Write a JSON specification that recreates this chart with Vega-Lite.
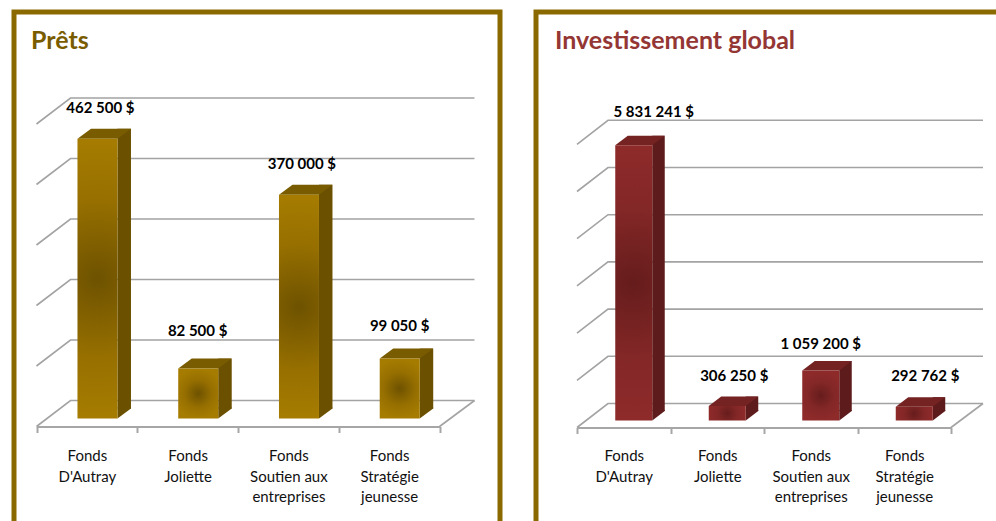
{
"$schema":"https://vega.github.io/schema/vega-lite/v6.json",
"background":"white",
"padding":{"left":11,"top":9,"right":0,"bottom":0},
"spacing":30,
"config":{"view":{"stroke":"#8a6a00","strokeWidth":5,"fill":"white"},"concat":{"spacing":30}},
"datasets":{
"prets":[{"fonds":"Fonds D'Autray","montant":462500,"label":"462 500 $"},{"fonds":"Fonds Joliette","montant":82500,"label":"82 500 $"},{"fonds":"Fonds Soutien aux entreprises","montant":370000,"label":"370 000 $"},{"fonds":"Fonds Stratégie jeunesse","montant":99050,"label":"99 050 $"}],
"invest":[{"fonds":"Fonds D'Autray","montant":5831241,"label":"5 831 241 $"},{"fonds":"Fonds Joliette","montant":306250,"label":"306 250 $"},{"fonds":"Fonds Soutien aux entreprises","montant":1059200,"label":"1 059 200 $"},{"fonds":"Fonds Stratégie jeunesse","montant":292762,"label":"292 762 $"}],
"gridP":[{"t":0},{"t":100000},{"t":200000},{"t":300000},{"t":400000},{"t":500000}],
"gridI":[{"t":0},{"t":1000000},{"t":2000000},{"t":3000000},{"t":4000000},{"t":5000000},{"t":6000000}]
},
"hconcat":[
{"width":486,"height":515,
"title":{"text":"Prêts","color":"#7a5c00","font":"Lato","fontWeight":"bold","fontSize":25,"anchor":"start","frame":"group","orient":"top","offset":-42,"dx":17},
"data":{"name":"prets"},
"encoding":{
"x":{"field":"fonds","type":"nominal","sort":null,"scale":{"domain":["Fonds D'Autray","Fonds Joliette","Fonds Soutien aux entreprises","Fonds Stratégie jeunesse"],"range":[22.5,425.5],"paddingInner":0,"paddingOuter":0},
"axis":{"title":null,"offset":-100.5,"orient":"bottom","tickBand":"extent","tickSize":6,"tickWidth":2,"tickColor":"#a6a6a6","domainColor":"#a6a6a6","domainWidth":2,"grid":false,"labelAngle":0,"labelFont":"Lato","labelFontSize":15,"labelColor":"#111111","labelPadding":16,"labelLineHeight":20.5,"labelLimit":0,
"labelExpr":"!datum.label?'':datum.label=='Fonds Soutien aux entreprises'?['Fonds','Soutien aux','entreprises']:datum.label=='Fonds Stratégie jeunesse'?['Fonds','Stratégie','jeunesse']:['Fonds',substring(datum.label,6)]"}},
"y":{"field":"montant","type":"quantitative","scale":{"domain":[0,500000],"range":[414.5,112],"nice":false},"axis":null}
},
"layer":[
{"data":{"name":"gridP"},"mark":{"type":"point","filled":false,"opacity":1,"stroke":"#a3a3a3","strokeWidth":1.6,"size":4,"shape":"M -50.4 0 L -16.4 -26 L 387.6 -26"},"encoding":{"x":{"datum":"Fonds D'Autray"},"y":{"field":"t","type":"quantitative"}}},
{"transform":[{"filter":"datum.fonds=='Fonds Stratégie jeunesse'"}],"mark":{"type":"point","filled":false,"opacity":1,"stroke":"#a3a3a3","strokeWidth":1.6,"size":4,"shape":"M 50.4 0 L 85.4 -26"},"encoding":{"y":{"datum":0}}},
{"mark":{"type":"bar","size":13.5,"xOffset":37.35,"yOffset":-18,"y2Offset":-18,"fill":"#6b5000"}},
{"mark":{"type":"point","filled":true,"opacity":1,"fill":"#6b5000","size":4,"xOffset":10.6,"yOffset":-8,"shape":"M 20 0 L 20 -11 L 33.5 -11 L 33.5 -10 Z"},"encoding":{"y":{"datum":0}}},
{"mark":{"type":"point","filled":true,"opacity":1,"fill":"#7a5c00","size":4,"xOffset":10.6,"yOffset":-8,"shape":"M -20 0 L -6.5 -10 L 33.5 -10 L 20 0 Z"}},
{"mark":{"type":"bar","size":40,"xOffset":10.6,"yOffset":-8,"y2Offset":-8,"fill":{"gradient":"radial","x1":0.5,"y1":0.5,"r1":0,"x2":0.5,"y2":0.5,"r2":0.5,"stops":[{"offset":0,"color":"#6e5200"},{"offset":0.55,"color":"#966f00"},{"offset":1,"color":"#a67c00"}]}}},
{"transform":[{"filter":"datum.montant>300000"}],"mark":{"type":"text","font":"Lato","fontWeight":"bold","fontSize":15,"color":"#000000","baseline":"middle","xOffset":13.5,"yOffset":-39},"encoding":{"text":{"field":"label"}}},
{"transform":[{"filter":"datum.montant==82500"}],"mark":{"type":"text","font":"Lato","fontWeight":"bold","fontSize":15,"color":"#000000","baseline":"middle","xOffset":10,"yOffset":-46},"encoding":{"text":{"field":"label"}}},
{"transform":[{"filter":"datum.montant==99050"}],"mark":{"type":"text","font":"Lato","fontWeight":"bold","fontSize":15,"color":"#000000","baseline":"middle","xOffset":10.5,"yOffset":-41},"encoding":{"text":{"field":"label"}}}
]},
{"width":480,"height":515,
"title":{"text":"Investissement global","color":"#943634","font":"Lato","fontWeight":"bold","fontSize":25,"anchor":"start","frame":"group","orient":"top","offset":-42,"dx":19},
"data":{"name":"invest"},
"encoding":{
"x":{"field":"fonds","type":"nominal","sort":null,"scale":{"domain":["Fonds D'Autray","Fonds Joliette","Fonds Soutien aux entreprises","Fonds Stratégie jeunesse"],"range":[41,415],"paddingInner":0,"paddingOuter":0},
"axis":{"title":null,"offset":-99.5,"orient":"bottom","tickBand":"extent","tickSize":6,"tickWidth":2,"tickColor":"#a6a6a6","domainColor":"#a6a6a6","domainWidth":2,"grid":false,"labelAngle":0,"labelFont":"Lato","labelFontSize":15,"labelColor":"#111111","labelPadding":15,"labelLineHeight":20.5,"labelLimit":0,
"labelExpr":"!datum.label?'':datum.label=='Fonds Soutien aux entreprises'?['Fonds','Soutien aux','entreprises']:datum.label=='Fonds Stratégie jeunesse'?['Fonds','Stratégie','jeunesse']:['Fonds',substring(datum.label,6)]"}},
"y":{"field":"montant","type":"quantitative","scale":{"domain":[0,6000000],"range":[415.5,132.3],"nice":false},"axis":null}
},
"layer":[
{"data":{"name":"gridI"},"mark":{"type":"point","filled":false,"opacity":1,"stroke":"#a3a3a3","strokeWidth":1.6,"size":4,"shape":"M -46.75 0 L -15.75 -24 L 359.25 -24"},"encoding":{"x":{"datum":"Fonds D'Autray"},"y":{"field":"t","type":"quantitative"}}},
{"transform":[{"filter":"datum.fonds=='Fonds Stratégie jeunesse'"}],"mark":{"type":"point","filled":false,"opacity":1,"stroke":"#a3a3a3","strokeWidth":1.6,"size":4,"shape":"M 46.75 0 L 78.75 -24"},"encoding":{"y":{"datum":0}}},
{"mark":{"type":"bar","size":12.5,"xOffset":34.75,"yOffset":-16.5,"y2Offset":-16.5,"fill":"#5e1b1b"}},
{"mark":{"type":"point","filled":true,"opacity":1,"fill":"#5e1b1b","size":4,"xOffset":10,"yOffset":-7,"shape":"M 18.5 0 L 18.5 -10.5 L 31 -10.5 L 31 -9.5 Z"},"encoding":{"y":{"datum":0}}},
{"mark":{"type":"point","filled":true,"opacity":1,"fill":"#742222","size":4,"xOffset":10,"yOffset":-7,"shape":"M -18.5 0 L -6 -9.5 L 31 -9.5 L 18.5 0 Z"}},
{"mark":{"type":"bar","size":37,"xOffset":10,"yOffset":-7,"y2Offset":-7,"fill":{"gradient":"radial","x1":0.5,"y1":0.5,"r1":0,"x2":0.5,"y2":0.5,"r2":0.5,"stops":[{"offset":0,"color":"#661c1c"},{"offset":0.55,"color":"#842727"},{"offset":1,"color":"#8e2a2a"}]}}},
{"transform":[{"filter":"datum.montant==5831241"}],"mark":{"type":"text","font":"Lato","fontWeight":"bold","fontSize":15,"color":"#000000","baseline":"middle","xOffset":30,"yOffset":-40},"encoding":{"text":{"field":"label"}}},
{"transform":[{"filter":"datum.montant==306250"}],"mark":{"type":"text","font":"Lato","fontWeight":"bold","fontSize":15,"color":"#000000","baseline":"middle","xOffset":17,"yOffset":-37.5},"encoding":{"text":{"field":"label"}}},
{"transform":[{"filter":"datum.montant==1059200"}],"mark":{"type":"text","font":"Lato","fontWeight":"bold","fontSize":15,"color":"#000000","baseline":"middle","xOffset":10,"yOffset":-34},"encoding":{"text":{"field":"label"}}},
{"transform":[{"filter":"datum.montant==292762"}],"mark":{"type":"text","font":"Lato","fontWeight":"bold","fontSize":15,"color":"#000000","baseline":"middle","xOffset":21,"yOffset":-38},"encoding":{"text":{"field":"label"}}}
]}
]
}
